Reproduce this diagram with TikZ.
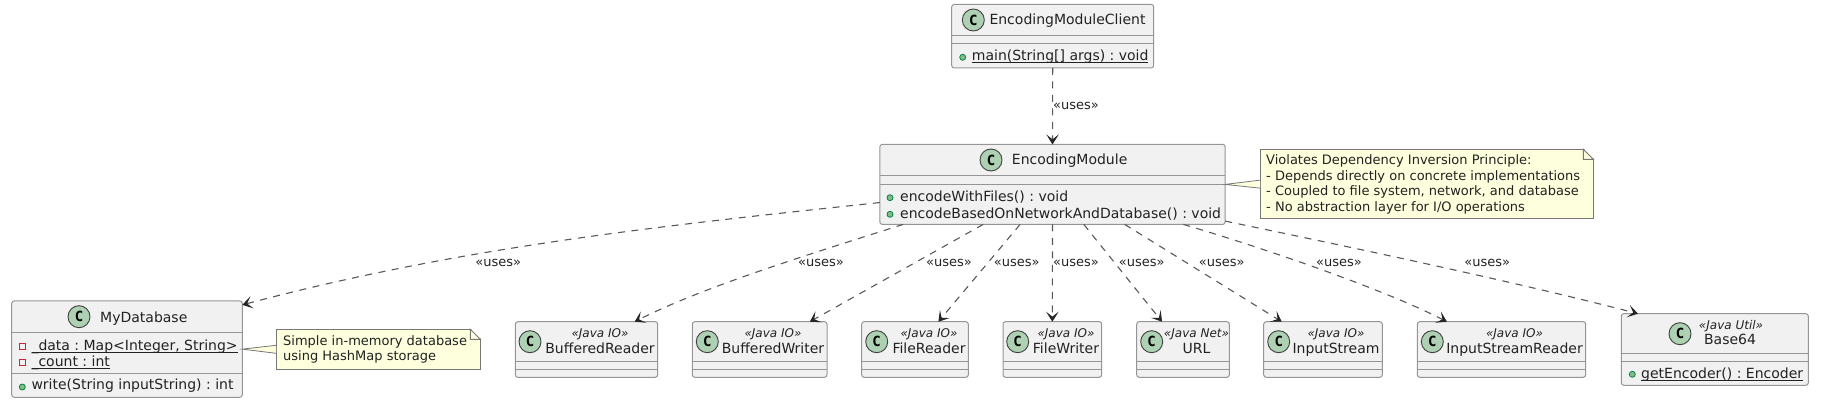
\documentclass[tikz,border=0pt]{standalone}
\usepackage{fontspec}
\setmainfont{DejaVu Sans}
\setmonofont{DejaVu Sans Mono}
\usetikzlibrary{arrows.meta,calc}
\definecolor{boxfill}{HTML}{F1F1F1}
\definecolor{boxline}{HTML}{959595}
\definecolor{notefill}{HTML}{FEFFDD}
\definecolor{spotfill}{HTML}{ADD1B2}
\definecolor{txtcol}{HTML}{222222}
\newcommand{\fsz}[1]{\fontsize{#1}{#1}\selectfont}
\newcommand{\ulin}[1]{\setbox0\hbox{#1}\rlap{\rule[-2.2pt]{\wd0}{0.8pt}}\box0}
\AtBeginDocument{\frenchspacing}
\tikzset{
  >={Stealth[length=10pt,width=12.5pt,inset=5pt,color=black!85]},
  classbox/.style={draw=boxline,fill=boxfill,line width=1pt,rounded corners=2.5pt,outer sep=0pt,inner sep=0pt},
  spot/.style={circle,draw=black!75,fill=spotfill,line width=0.9pt,minimum size=22pt,inner sep=0pt,font=\fsz{14}\bfseries\ttfamily,text=black},
  title/.style={anchor=base,inner sep=0pt,font=\fsz{14},text=txtcol},
  stereo/.style={anchor=base,inner sep=0pt,font=\fsz{12}\itshape,text=txtcol},
  member/.style={anchor=base west,inner sep=0pt,font=\fsz{14},text=txtcol},
  pubdot/.style={draw={rgb,255:red,3;green,128;blue,72},fill={rgb,255:red,132;green,190;blue,132},line width=0.8pt},
  privbox/.style={draw={rgb,255:red,200;green,41;blue,48},fill=boxfill,line width=0.8pt},
  uses/.style={dash pattern=on 7pt off 6.5pt,draw=black!65,line width=1.1pt,->},
  useslabel/.style={inner sep=0pt,font=\fsz{13},text=txtcol},
  notebox/.style={draw=boxline!80!black,fill=notefill,line width=1pt,outer sep=0pt,inner sep=0pt},
  notetext/.style={anchor=north west,inner sep=0pt,font=\fsz{13},text=txtcol,align=left},
}
\begin{document}
\begin{tikzpicture}[x=1pt,y=-1pt]
  \useasboundingbox (0,0) rectangle (1826,411);
  % client
  \node[classbox,minimum width=202pt,minimum height=63.5pt] (client) at (1052.7,36.2) {};
  \draw[boxline,line width=1pt] (951.7,36) -- (1153.7,36) (951.7,44) -- (1153.7,44);
  \node[spot] (clientC) at (973.3,20) {C};
  \node[member] (clientT) at (989.3,25) {EncodingModuleClient};
  \draw[pubdot] (962.7,57.3) circle (3pt);
  \node[member] (clientM) at (971.7,60.5) {\ulin{main(String[] args) : void}};
  % module
  \node[classbox,minimum width=345.4pt,minimum height=80pt] (em) at (1052.5,184.4) {};
  \draw[boxline,line width=1pt] (879.8,176) -- (1225.2,176) (879.8,184.3) -- (1225.2,184.3);
  \node[spot] (emC) at (991,160) {C};
  \node[member] (emT) at (1011.7,165) {EncodingModule};
  \draw[pubdot] (890,197.7) circle (3pt) (890,214.3) circle (3pt);
  \node[member] (emA) at (900,201.9) {encodeWithFiles() : void};
  \node[member] (emB) at (900,218.3) {encodeBasedOnNetworkAndDatabase() : void};
  % database
  \node[classbox,minimum width=230.6pt,minimum height=96.3pt] (db) at (127,349.15) {};
  \draw[boxline,line width=1pt] (11.7,332.7) -- (242.3,332.7) (11.7,373.3) -- (242.3,373.3);
  \node[spot] (dbC) at (79,316.7) {C};
  \node[member] (dbT) at (100,322.3) {MyDatabase};
  \draw[privbox] (19.3,343.7) rectangle (25.3,349.7) (19.3,359.7) rectangle (25.3,365.7);
  \node[member] (dbA) at (31.3,350.7) {\ulin{\_data : Map<Integer, String>}};
  \node[member] (dbB) at (31.3,366.5) {\ulin{\_count : int}};
  \draw[pubdot] (22.3,387) circle (3pt);
  \node[member] (dbM) at (31.3,390) {write(String inputString) : int};
  % small classes
  \foreach \nm/\cx/\bw/\spx/\tx/\st/\ttl in {
    bufReader/586.5/142.4/530/600/Java IO/BufferedReader,
    bufWriter/759.65/134.7/707.3/773/Java IO/BufferedWriter,
    fileReader/915/106.6/876.7/929/Java IO/FileReader,
    fileWriter/1052.35/98.7/1017.7/1066/Java IO/FileWriter,
    url/1183/92.6/1151.7/1196.5/Java Net/URL,
    inStream/1323/118.6/1278.7/1336/Java IO/InputStream,
    inReader/1501.5/168.4/1432.3/1514.5/Java IO/InputStreamReader} {
    \node[classbox,minimum width=\bw pt,minimum height=55.6pt] (\nm) at (\cx,349.5) {};
    \draw[boxline,line width=1pt] ($(\nm.north west)+(0,40)$) -- ($(\nm.north east)+(0,40)$)
      ($(\nm.north west)+(0,47.6)$) -- ($(\nm.north east)+(0,47.6)$);
    \node[spot] (\nm C) at (\spx,341.7) {C};
    \node[stereo] (\nm S) at (\tx,337.3) {«\st»};
    \node[title] (\nm T) at (\tx,353.3) {\ttl};
  }
  % base64
  \node[classbox,minimum width=187pt,minimum height=71.6pt] (base) at (1714.8,349.5) {};
  \draw[boxline,line width=1pt] (1621.3,353.7) -- (1808.3,353.7) (1621.3,361.3) -- (1808.3,361.3);
  \node[spot] (baseC) at (1680,333.7) {C};
  \node[stereo] (baseS) at (1731,329.3) {«Java Util»};
  \node[title] (baseT) at (1730,345) {Base64};
  \draw[pubdot] (1632.3,374.3) circle (3pt);
  \node[member] (baseM) at (1641,378.3) {\ulin{getEncoder() : Encoder}};
  % notes
  \node[notebox,minimum width=333.3pt,minimum height=69.7pt] (noteA) at (1426.65,184.15) {};
  \node[notebox,minimum width=204.3pt,minimum height=40pt] (noteB) at (378.15,349.3) {};
  \foreach \nt/\cl in {noteA/em,noteB/db} {
    \fill[notefill] ($(\nt.west)+(0,-4)$) -- (\cl.east) -- ($(\nt.west)+(0,4)$) -- cycle;
    \draw[boxline!80!black,line width=0.8pt] ($(\nt.west)+(0,-4)$) -- (\cl.east) -- ($(\nt.west)+(0,4)$);
    \fill[white] ($(\nt.north east)+(-10,-1)$) -- ($(\nt.north east)+(1,-1)$) -- ($(\nt.north east)+(1,10)$) -- cycle;
    \draw[boxline!80!black,fill=notefill,line width=1pt] ($(\nt.north east)+(-10,0)$) -- ($(\nt.north east)+(0,10)$) -- ($(\nt.north east)+(-10,10)$) -- cycle;
  }
  \node[notetext] (noteAtxt) at (1266,154.5) {Violates Dependency Inversion Principle:\\[2.5pt]- Depends directly on concrete implementations\\[2.5pt]- Coupled to file system, network, and database\\[2.5pt]- No abstraction layer for I/O operations};
  \node[notetext] (noteBtxt) at (283,335.5) {Simple in-memory database\\[2pt]using HashMap storage};
  % connectors
  \draw[uses] (client.south) -- (em.north);
  \draw[uses] (em.-174.8) .. controls (660,226) and (460,247) .. (db.21);
  \draw[uses] (em.-165.3) .. controls (810,254) and (703,287) .. (bufReader.30.7);
  \draw[uses] (em.-150.5) -- (bufWriter.29.7);
  \draw[uses] (em.-129.9) -- (fileReader.50);
  \draw[uses] (em.south) -- (fileWriter.north);
  \draw[uses] (em.-52.4) -- (url.127.5);
  \draw[uses] (em.-29.8) -- (inStream.146.1);
  \draw[uses] (em.-17) .. controls (1270,250) and (1385,290) .. (inReader.153.5);
  \draw[uses] (em.-12) .. controls (1360,249) and (1520,283) .. (base.155.6);
  \node[useslabel] (lblClient) at (1076,106) {«uses»};
  \foreach \lx [count=\i] in {498.3,821,949,1016.7,1076,1141.7,1221.7,1339,1487.3} {
    \node[useslabel] (lbl\i) at (\lx,263.3) {«uses»};
  }
\end{tikzpicture}
\end{document}
